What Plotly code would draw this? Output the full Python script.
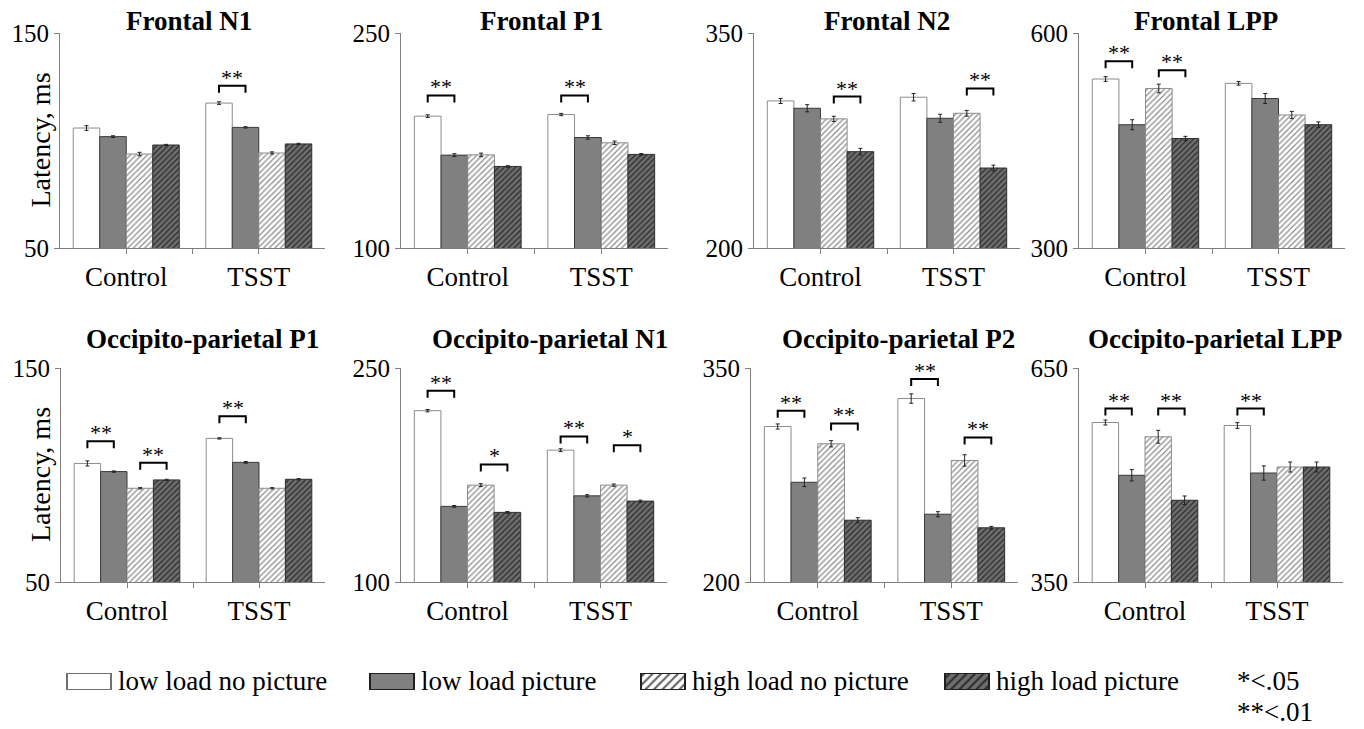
import plotly.graph_objects as go

W, H = 1364, 729
SERIF = "Times New Roman, Liberation Serif, serif"

categories = ["Control", "TSST"]
series_names = ["low load no picture", "low load picture", "high load no picture", "high load picture"]

titles = ["Frontal N1", "Frontal P1", "Frontal N2", "Frontal LPP",
          "Occipito-parietal P1", "Occipito-parietal N1", "Occipito-parietal P2", "Occipito-parietal LPP"]
y_ranges = [[50, 150], [100, 250], [200, 350], [300, 600],
            [50, 150], [100, 250], [200, 350], [350, 650]]

# values per panel: [Control, TSST] for each of the 4 conditions
low_no_pic = [[105.8, 117.4], [192.0, 193.1], [302.6, 305.2], [535.8, 529.7],
              [105.4, 117.1], [220.1, 192.4], [309.0, 328.6], [573.6, 569.4]]
low_pic = [[101.8, 106.1], [164.8, 177.1], [297.5, 290.5], [472.0, 508.6],
           [101.6, 105.9], [153.0, 160.4], [269.9, 247.5], [499.6, 502.8]]
high_no_pic = [[93.7, 94.2], [165.0, 173.4], [290.1, 294.0], [522.6, 485.6],
               [93.8, 93.8], [167.9, 167.9], [296.9, 285.2], [553.6, 511.2]]
high_pic = [[97.9, 98.4], [156.9, 165.3], [267.2, 255.8], [452.8, 472.0],
            [97.7, 98.0], [148.8, 156.7], [243.3, 238.0], [464.6, 511.2]]

err_low_no_pic = [[1.1, 0.6], [0.9, 0.8], [1.8, 2.6], [3.3, 2.5],
                  [1.2, 0.3], [0.8, 1.0], [1.8, 3.3], [3.5, 4.0]]
err_low_pic = [[0.4, 0.3], [1.0, 1.2], [2.5, 2.8], [7.0, 7.0],
               [0.3, 0.4], [0.6, 0.8], [3.0, 1.8], [8.0, 10.0]]
err_high_no_pic = [[0.8, 0.5], [1.2, 1.2], [1.8, 2.0], [6.0, 5.0],
                   [0.3, 0.3], [1.0, 0.8], [2.2, 4.0], [9.0, 7.0]]
err_high_pic = [[0.3, 0.3], [0.5, 0.6], [2.3, 2.0], [3.0, 4.0],
                [0.3, 0.3], [0.6, 0.7], [1.8, 1.0], [6.0, 7.0]]

# significance: (panel, category, series a, series b, label, bracket level)
sig_panel = [0, 1, 1, 2, 2, 3, 3, 4, 4, 4, 5, 5, 5, 5, 6, 6, 6, 6, 7, 7, 7]
sig_cat = [1, 0, 1, 0, 1, 0, 0, 0, 0, 1, 0, 0, 1, 1, 0, 0, 1, 1, 0, 0, 1]
sig_a = [0, 0, 0, 2, 2, 0, 2, 0, 2, 0, 0, 2, 0, 2, 0, 2, 0, 2, 0, 2, 0]
sig_b = [1, 1, 1, 3, 3, 1, 3, 1, 3, 1, 1, 3, 1, 3, 1, 3, 1, 3, 1, 3, 1]
sig_label = ["**", "**", "**", "**", "**", "**", "**", "**", "**", "**",
             "**", "*", "**", "*", "**", "**", "**", "**", "**", "**", "**"]
sig_level = [125.5, 206.4, 206.4, 305.7, 311.3, 560.6, 548.0, 115.8, 105.7, 127.5,
             234.1, 182.4, 202.0, 195.9, 320.0, 311.1, 342.3, 301.3, 593.2, 593.2, 593.2]

legend_notes = ["*<.05", "**<.01"]

values = [low_no_pic, low_pic, high_no_pic, high_pic]
errors = [err_low_no_pic, err_low_pic, err_high_no_pic, err_high_pic]

# styles
fill = ["white", "#808080", "white", "#6e6e6e"]
edge = ["#8c8c8c", "#3a3a3a", "#8c8c8c", "#2e2e2e"]
pat_shape = ["", "", "/", "/"]
pat_fg = ["white", "#808080", "#8a8a8a", "#2a2a2a"]

# panel pixel boxes (x0, x1, ytop, ybottom)
boxes = [(60, 325, 33, 248), (401, 668, 33, 248), (754, 1020, 33, 248), (1079, 1345, 33, 248),
         (61, 325, 368, 582), (401, 667, 368, 582), (751, 1018, 368, 582), (1079, 1343, 368, 582)]
title_x = [189, 541, 887, 1206, 202, 550, 898, 1215]
title_y = [21, 21, 21, 21, 339, 339, 339, 339]

BARGAP = 0.2
fig = go.Figure()
layout = dict(
    width=W, height=H, margin=dict(l=0, r=0, t=0, b=0, autoexpand=False),
    paper_bgcolor="white", plot_bgcolor="white",
    barmode="group", bargap=BARGAP, bargroupgap=0, showlegend=False,
    font=dict(family=SERIF, color="black"),
)
annotations = []
shapes = []

for k in range(8):
    s = "" if k == 0 else str(k + 1)
    x0, x1, yt, yb = boxes[k]
    yr = y_ranges[k]
    for i in range(4):
        fig.add_trace(go.Bar(
            x=[0, 1], y=values[i][k], name=series_names[i],
            xaxis="x" + s, yaxis="y" + s,
            marker=dict(color=fill[i], line=dict(color=edge[i], width=1),
                        pattern=dict(shape=pat_shape[i], fgcolor=pat_fg[i], bgcolor=fill[i],
                                     size=4, solidity=0.3, fillmode="replace")),
            error_y=dict(type="data", array=errors[i][k], color="#222222", thickness=1, width=2),
            hoverinfo="skip",
        ))
    layout["xaxis" + s] = dict(
        domain=[x0 / W, x1 / W], range=[-0.5, 1.5], anchor="y" + s, automargin=False,
        tickvals=[0, 0.5, 1], ticktext=[categories[0], "", categories[1]],
        ticks="outside", ticklen=5, tickcolor="#808080", showline=True, linecolor="#808080",
        linewidth=1, showgrid=False, zeroline=False, ticklabelstandoff=0,
        tickfont=dict(family=SERIF, size=27, color="black"), fixedrange=True,
    )
    layout["yaxis" + s] = dict(
        domain=[1 - yb / H, 1 - yt / H], range=yr, anchor="x" + s, automargin=False,
        tickvals=yr, ticks="outside", ticklen=5, tickcolor="#808080", showline=True,
        linecolor="#808080", linewidth=1, showgrid=False, zeroline=False, ticklabelstandoff=0,
        tickfont=dict(family=SERIF, size=25, color="black"), fixedrange=True,
    )
    annotations.append(dict(text="<b>" + titles[k] + "</b>", x=title_x[k] / W, y=1 - title_y[k] / H,
                            xref="paper", yref="paper", xanchor="center", yanchor="middle",
                            showarrow=False, font=dict(family=SERIF, size=27, color="black")))

# y-axis titles for left column
for k in (0, 4):
    x0, x1, yt, yb = boxes[k]
    annotations.append(dict(text="Latency, ms", x=40 / W, y=1 - ((yt + yb) / 2) / H,
                            xref="paper", yref="paper", xanchor="center", yanchor="middle",
                            textangle=-90, showarrow=False,
                            font=dict(family=SERIF, size=28, color="black")))

# significance brackets
bar_w = (1 - BARGAP) / 4
for n in range(len(sig_panel)):
    k = sig_panel[n]
    s = "" if k == 0 else str(k + 1)
    x0, x1, yt, yb = boxes[k]
    yr = y_ranges[k]
    leg = (yr[1] - yr[0]) * 7.0 / (yb - yt)
    xa = sig_cat[n] + (sig_a[n] - 1.5) * bar_w
    xb = sig_cat[n] + (sig_b[n] - 1.5) * bar_w
    top = sig_level[n]
    shapes.append(dict(type="path", xref="x" + s, yref="y" + s,
                       path=f"M {xa},{top - leg} L {xa},{top} L {xb},{top} L {xb},{top - leg}",
                       line=dict(color="black", width=2)))
    annotations.append(dict(text=sig_label[n], x=(xa + xb) / 2, y=top, xref="x" + s, yref="y" + s,
                            xanchor="center", yanchor="bottom", yshift=-6, showarrow=False,
                            font=dict(family=SERIF, size=22, color="black")))

# legend swatches drawn as bars on a helper axis (pixel units)
leg_left = [67, 370, 641, 945]
leg_w = 44
leg_edge = ["#707070", "#202020", "#202020", "#202020"]
leg_fg = ["white", "#808080", "#606060", "#2a2a2a"]
for i in range(4):
    fig.add_trace(go.Bar(
        x=[leg_left[i]], y=[1], width=[leg_w], offset=[0],
        xaxis="x9", yaxis="y9",
        marker=dict(color=fill[i], line=dict(color=leg_edge[i], width=2),
                    pattern=dict(shape=pat_shape[i], fgcolor=leg_fg[i], bgcolor=fill[i],
                                 size=6, solidity=0.35, fillmode="replace")),
        hoverinfo="skip",
    ))
layout["xaxis9"] = dict(domain=[0, 1], range=[0, W], anchor="y9", visible=False,
                        fixedrange=True, automargin=False)
layout["yaxis9"] = dict(domain=[1 - 690 / H, 1 - 673 / H], range=[0, 1], anchor="x9",
                        visible=False, fixedrange=True, automargin=False)
for i in range(4):
    annotations.append(dict(text=series_names[i], x=(leg_left[i] + leg_w + 5) / W, y=1 - 681 / H,
                            xref="paper", yref="paper", xanchor="left", yanchor="middle",
                            showarrow=False, font=dict(family=SERIF, size=27, color="black")))
for j, note in enumerate(legend_notes):
    annotations.append(dict(text=note, x=1235 / W, y=1 - (681 + 31 * j) / H,
                            xref="paper", yref="paper", xanchor="left", yanchor="middle",
                            showarrow=False, font=dict(family=SERIF, size=27, color="black")))

layout["annotations"] = annotations
layout["shapes"] = shapes
fig.update_layout(**layout)
fig.write_html("out.html")
